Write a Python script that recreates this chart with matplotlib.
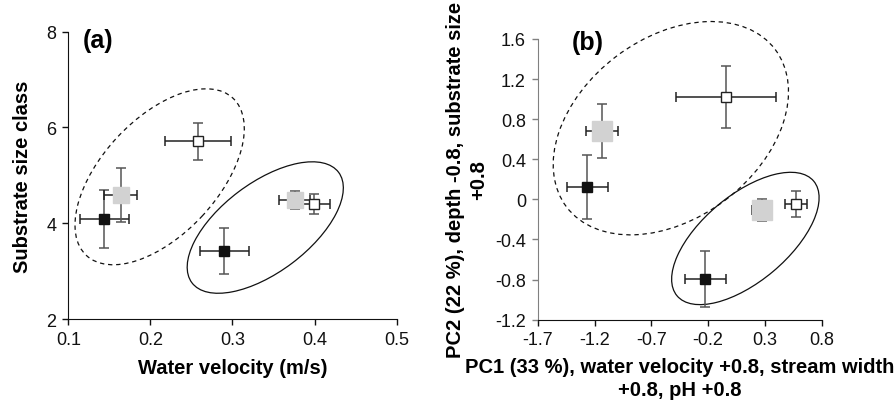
import numpy as np
import matplotlib
matplotlib.use("Agg")
import matplotlib.pyplot as plt
from matplotlib.patches import Ellipse
from matplotlib.transforms import Affine2D, ScaledTranslation

plt.rcParams['font.family'] = ['Liberation Sans', 'DejaVu Sans']

# habitat groups: black, grey, white squares
kinds = ['black', 'gray', 'white', 'black', 'gray', 'white']
face = {'black': '#111111', 'gray': '#d2d2d2', 'white': '#ffffff'}
edge = {'black': '#111111', 'gray': '#d2d2d2', 'white': '#222222'}
msize = {'black': 7.8, 'gray': 11.5, 'white': 7.5}

# panel (a)
vel = [0.144, 0.164, 0.258, 0.290, 0.376, 0.399]
vel_err = [0.030, 0.020, 0.040, 0.030, 0.019, 0.020]
sub = [4.09, 4.59, 5.71, 3.41, 4.49, 4.41]
sub_err = [0.61, 0.57, 0.39, 0.48, 0.19, 0.21]

# panel (b)
pc1 = [-1.262, -1.135, -0.044, -0.223, 0.271, 0.573]
pc1_err = [0.18, 0.144, 0.44, 0.18, 0.085, 0.095]
pc2 = [0.12, 0.685, 1.025, -0.794, -0.103, -0.043]
pc2_err = [0.32, 0.27, 0.31, 0.28, 0.11, 0.13]
msize_b = {'black': 7.8, 'gray': 14.0, 'white': 7.5}

# group ellipses: centre (data), semi-axes (px), angle (deg), style
ell_a = [((0.2113, 4.97), 107.5, 57.9, 47, 'dashed'),
         ((0.340, 3.91), 91.8, 44.6, 37, 'solid')]
ell_b = [((-0.528, 0.71), 130.7, 90.2, 37, 'dashed'),
         ((0.128, -0.39), 89.2, 43.1, 40, 'solid')]

LABEL_FS = 14.5
TICK_FS = 13

fig = plt.figure(figsize=(8.95, 4.10), dpi=100)
ax1 = fig.add_axes([0.0763, 0.2195, 0.3668, 0.7008])
ax2 = fig.add_axes([0.6008, 0.2179, 0.3173, 0.6846])


def draw_points(ax, xs, xe, ys, ye, sizes):
    for x, dx, y, dy, k in zip(xs, xe, ys, ye, kinds):
        ax.errorbar(x, y, yerr=dy, fmt='none', ecolor='#555555',
                    elinewidth=1.1, capsize=3.5, capthick=1.1, zorder=2)
        ax.errorbar(x, y, xerr=dx, fmt='none', ecolor='#222222',
                    elinewidth=1.1, capsize=3.5, capthick=1.1, zorder=2)
        ax.plot(x, y, marker='s', ms=sizes[k], mfc=face[k], mec=edge[k],
                mew=1.0, ls='none', zorder=3)


def draw_ellipses(ax, ells):
    for (cx, cy), a, b, ang, style in ells:
        tr = (Affine2D().scale(a / 100, b / 100).rotate_deg(ang)
              + fig.dpi_scale_trans + ScaledTranslation(cx, cy, ax.transData))
        ls = (0, (3.5, 3)) if style == 'dashed' else '-'
        e = Ellipse((0, 0), 2, 2, transform=tr, fill=False, ec='#111111',
                    lw=0.9, ls=ls, clip_on=False, zorder=1)
        ax.add_patch(e)


def style_axes(ax, left_color):
    ax.spines['top'].set_visible(False)
    ax.spines['right'].set_visible(False)
    ax.spines['left'].set_color(left_color)
    ax.spines['bottom'].set_color('#111111')
    ax.tick_params(direction='out', length=4.5, width=1, labelsize=TICK_FS,
                   pad=4, colors='#111111')
    ax.tick_params(axis='y', color=left_color)


# ---- (a) ----
draw_ellipses(ax1, ell_a)
draw_points(ax1, vel, vel_err, sub, sub_err, msize)
ax1.set_xlim(0.1, 0.5)
ax1.set_ylim(2, 8)
ax1.set_xticks([0.1, 0.2, 0.3, 0.4, 0.5])
ax1.set_yticks([2, 4, 6, 8])
style_axes(ax1, '#111111')
ax1.set_xlabel('Water velocity (m/s)', fontsize=LABEL_FS, fontweight='bold',
               labelpad=7)
ax1.set_ylabel('Substrate size class', fontsize=LABEL_FS, fontweight='bold',
               labelpad=10)
ax1.text(0.045, 0.97, '(a)', transform=ax1.transAxes, fontsize=18,
         fontweight='bold', va='center')

# ---- (b) ----
draw_ellipses(ax2, ell_b)
draw_points(ax2, pc1, pc1_err, pc2, pc2_err, msize_b)
ax2.set_xlim(-1.7, 0.8)
ax2.set_ylim(-1.2, 1.6)
ax2.set_xticks([-1.7, -1.2, -0.7, -0.2, 0.3, 0.8])
ax2.set_xticklabels(['-1.7', '-1.2', '-0.7', '-0.2', '0.3', '0.8'])
ax2.set_yticks([-1.2, -0.8, -0.4, 0, 0.4, 0.8, 1.2, 1.6])
ax2.set_yticklabels(['-1.2', '-0.8', '-0.4', '0', '0.4', '0.8', '1.2', '1.6'])
style_axes(ax2, '#808080')
ax2.set_xlabel('PC1 (33 %), water velocity +0.8, stream width\n+0.8, pH +0.8',
               fontsize=LABEL_FS, fontweight='bold', labelpad=6,
               linespacing=1.3)
ax2.set_ylabel('PC2 (22 %), depth -0.8, substrate size\n+0.8',
               fontsize=LABEL_FS, fontweight='bold', labelpad=5,
               linespacing=1.3)
ax2.text(0.12, 0.99, '(b)', transform=ax2.transAxes, fontsize=18,
         fontweight='bold', va='center')

fig.savefig('out.png', dpi=100)
